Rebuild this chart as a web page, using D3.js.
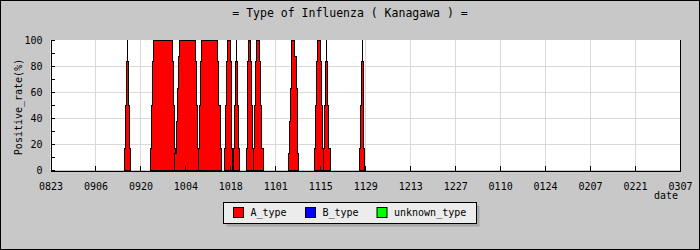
<!DOCTYPE html>
<html>
<head>
<meta charset="utf-8">
<script src="https://cdn.jsdelivr.net/npm/d3@7"></script>
<style>
body { margin: 0; background: #c8c8c8; }
text { font-family: "DejaVu Sans Mono", monospace; fill: #000; }
</style>
</head>
<body>
<script>

// day offsets from 08/23, fractional
var episodeDays = [
	[22.98, 23.26, 23.57, 23.82, 23.91, 24.35, 24.66, 24.91],
	[31.14, 31.45, 31.76, 32.01, 37.92, 38.24, 38.55, 38.92],
	[38.61, 39.23, 39.60, 39.79, 40.10, 45.09, 45.40, 45.71, 46.14],
	[46.14, 46.33, 46.64, 46.95, 52.15, 52.46, 52.78, 53.09],
	[54.11, 54.43, 54.74, 54.96, 56.05, 56.29, 56.51, 56.73],
	[57.04, 57.35, 57.54, 57.85, 57.94, 58.29, 58.69, 59.00],
	[60.97, 61.25, 61.43, 61.65, 62.27, 62.52, 62.83, 63.14],
	[63.14, 63.46, 63.77, 64.08, 65.01, 65.32, 65.70, 66.17],
	[74.04, 74.35, 74.67, 74.98, 75.19, 76.03, 76.44, 76.75, 77.06, 77.37],
	[82.14, 82.45, 82.76, 83.07, 84.01, 84.32, 84.63, 84.94],
	[84.94, 85.25, 85.56, 85.84, 85.94, 86.31, 86.62, 87.03],
	[96.15, 96.46, 96.77, 96.99, 97.08, 97.30, 97.61, 97.92]
];
// A_type positive rate (%) from each day offset on
var episodeRates = [
	[16.7, 50, 83.3, 100, 83.3, 50, 16.7, 0],
	[16.7, 50, 83.3, 100, 83.3, 50, 16.7, 0],
	[12.5, 37.5, 62.5, 87.5, 100, 83.3, 50, 16.7, 0],
	[16.7, 50, 83.3, 100, 83.3, 50, 16.7, 0],
	[16.7, 50, 83.3, 100, 83.3, 50, 16.7, 0],
	[16.7, 50, 83.3, 100, 83.3, 50, 16.7, 0],
	[16.7, 50, 83.3, 100, 83.3, 50, 16.7, 0],
	[16.7, 50, 83.3, 100, 83.3, 50, 16.7, 0],
	[12.5, 37.5, 62.5, 87.5, 100, 87.5, 62.5, 37.5, 12.5, 0],
	[16.7, 50, 83.3, 100, 83.3, 50, 16.7, 0],
	[16.7, 50, 83.3, 100, 83.3, 50, 16.7, 0],
	[16.7, 50, 83.3, 100, 83.3, 50, 16.7, 0]
];

var dateLabels = ["0823","0906","0920","1004","1018","1101","1115","1129","1213","1227","0110","0124","0207","0221","0307"];
var types = ["A_type", "B_type", "unknown_type"];
var typeColors = ["#ff0000", "#0000ff", "#00ff00"];

var width = 700, height = 250;
var margin = {left: 50.5, right: 20, top: 40, bottom: 80};

var x = d3.scaleLinear().domain([0, 196]).range([margin.left, width - margin.right]);
var y = d3.scaleLinear().domain([0, 100]).range([height - margin.bottom, margin.top]);

var svg = d3.select("body").append("svg")
	.attr("width", width).attr("height", height);

svg.append("rect")
	.attr("x", 0.5).attr("y", 0.5)
	.attr("width", width - 1).attr("height", height - 1)
	.attr("fill", "#c8c8c8").attr("stroke", "#000");

svg.append("text")
	.attr("x", 350).attr("y", 17)
	.attr("font-size", "11.5px")
	.style("text-anchor", "middle")
	.text("= Type of Influenza ( Kanagawa ) =");

svg.append("rect")
	.attr("x", x(0)).attr("y", y(100))
	.attr("width", x(196) - x(0)).attr("height", y(0) - y(100))
	.attr("fill", "#fff");

// grid
var grid = svg.append("g").attr("stroke", "#d9d9d9").attr("shape-rendering", "crispEdges");
grid.selectAll(".hg").data([20, 40, 60, 80])
	.enter().append("line")
	.attr("x1", x(0)).attr("x2", x(196))
	.attr("y1", function(d){ return y(d); }).attr("y2", function(d){ return y(d); });
grid.selectAll(".vg").data(d3.range(1, 14))
	.enter().append("line")
	.attr("x1", function(d){ return x(d * 14); }).attr("x2", function(d){ return x(d * 14); })
	.attr("y1", y(100)).attr("y2", y(0));

// A_type episodes, stepped areas
var area = d3.area()
	.x(function(d){ return x(d[0]); })
	.y0(y(0))
	.y1(function(d){ return y(d[1]); })
	.curve(d3.curveStepAfter);

var episodes = episodeDays.map(function(days, i){
	return days.map(function(d, j){ return [d, episodeRates[i][j]]; });
});

svg.append("g").selectAll("path").data(episodes)
	.enter().append("path")
	.attr("d", area)
	.attr("fill", typeColors[0])
	.attr("stroke", "#000")
	.attr("stroke-width", 1)
	.attr("shape-rendering", "crispEdges");

// axes
var yAxis = d3.axisLeft(y)
	.tickValues(d3.range(0, 101, 10))
	.tickFormat(function(d){ return d % 20 ? "" : d; })
	.tickSizeInner(-4).tickSizeOuter(0).tickPadding(8);

var xAxis = d3.axisBottom(x)
	.tickValues(d3.range(0, 197, 14))
	.tickFormat(function(d, i){ return dateLabels[i]; })
	.tickSizeInner(-5).tickSizeOuter(0).tickPadding(12);

svg.append("g").attr("class", "y axis")
	.attr("transform", "translate(" + x(0) + ",0)")
	.call(yAxis);

svg.append("g").attr("class", "x axis")
	.attr("transform", "translate(0," + (y(0) + 0.5) + ")")
	.call(xAxis);

svg.selectAll(".axis text").attr("font-size", "10px").attr("font-family", "DejaVu Sans Mono");
svg.selectAll(".axis line, .axis path").attr("stroke", "#000").attr("shape-rendering", "crispEdges");

svg.append("line")
	.attr("x1", x(196) + 0.5).attr("x2", x(196) + 0.5)
	.attr("y1", y(100)).attr("y2", y(0))
	.attr("stroke", "#000");

svg.append("text")
	.attr("transform", "rotate(-90)")
	.attr("x", -107).attr("y", 22)
	.attr("font-size", "10px")
	.style("text-anchor", "middle")
	.text("Positive_rate(%)");

svg.append("text")
	.attr("x", 678).attr("y", 199)
	.attr("font-size", "10px")
	.style("text-anchor", "end")
	.text("date");

// legend
var legend = svg.append("g");
legend.append("rect")
	.attr("x", 226.5).attr("y", 205.5).attr("width", 253).attr("height", 21)
	.attr("fill", "#a8a8a8");
legend.append("rect")
	.attr("x", 223.5).attr("y", 202.5).attr("width", 253).attr("height", 21)
	.attr("fill", "#ececec").attr("stroke", "#000");

var legendX = [233.5, 305.5, 377];
var item = legend.selectAll(".item").data(types)
	.enter().append("g")
	.attr("transform", function(d, i){ return "translate(" + legendX[i] + ",207.5)"; });
item.append("rect")
	.attr("width", 10).attr("height", 10)
	.attr("fill", function(d, i){ return typeColors[i]; })
	.attr("stroke", "#000");
item.append("text")
	.attr("x", 17).attr("y", 5).attr("dy", "0.35em")
	.attr("font-size", "10px")
	.text(function(d){ return d; });

</script>
</body>
</html>
